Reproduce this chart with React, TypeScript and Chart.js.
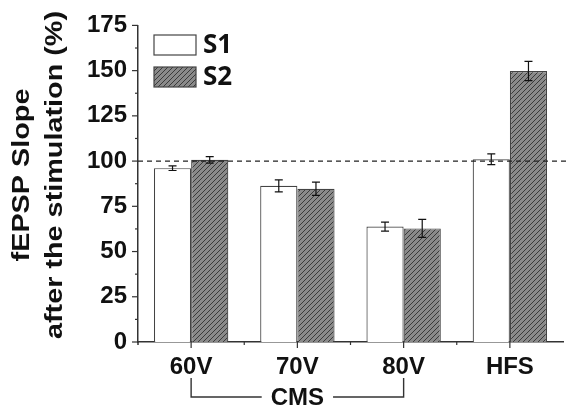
import React, { useEffect, useRef } from 'react';
import { Chart, registerables } from 'chart.js';

Chart.register(...registerables);

const categories = ['60V', '70V', '80V', 'HFS'];
const seriesNames = ['S1', 'S2'];
const s1Values = [96.1, 86.3, 63.8, 101.0];
const s1Errors = [1.3, 3.3, 2.5, 3.0];
const s2Values = [100.7, 84.7, 62.8, 149.8];
const s2Errors = [1.8, 3.7, 5.0, 5.3];
const yMin = 0;
const yMax = 175;
const yStep = 25;
const referenceLevel = 100;
const groupLabel = 'CMS';
const groupFirst = 0;
const groupLast = 2;
const yTitleLines = ['fEPSP Slope', 'after the stimulation (%)'];

const FONT = '"Liberation Sans", Arial, sans-serif';
const LEGEND_FONT = '"Open Sans", "Noto Sans", sans-serif';
const AXIS_COLOR = '#333';
const TEXT_COLOR = '#111';

function makeHatch(): CanvasPattern | string {
  const size = 5;
  const c = document.createElement('canvas');
  c.width = size;
  c.height = size;
  const g = c.getContext('2d');
  if (!g) return '#888';
  g.fillStyle = '#8a8a8a';
  g.fillRect(0, 0, size, size);
  g.strokeStyle = '#3a3a3a';
  g.lineWidth = 1;
  g.beginPath();
  g.moveTo(0, size);
  g.lineTo(size, 0);
  g.moveTo(-size, size);
  g.lineTo(size, -size);
  g.moveTo(0, 2 * size);
  g.lineTo(2 * size, 0);
  g.stroke();
  return g.createPattern(c, 'repeat') || '#888';
}

const errorsByDataset = [s1Errors, s2Errors];

const decorPlugin = {
  id: 'decor',
  afterDatasetsDraw(chart: any) {
    const ctx: CanvasRenderingContext2D = chart.ctx;
    const xs = chart.scales.x;
    const ys = chart.scales.y;
    const area = chart.chartArea;
    ctx.save();

    // error bars
    ctx.strokeStyle = '#111';
    ctx.lineWidth = 1.2;
    chart.data.datasets.forEach((ds: any, di: number) => {
      const meta = chart.getDatasetMeta(di);
      meta.data.forEach((bar: any, i: number) => {
        const v = ds.data[i];
        const e = errorsByDataset[di][i];
        const yt = ys.getPixelForValue(v + e);
        const yb = ys.getPixelForValue(v - e);
        const x = bar.x;
        ctx.beginPath();
        ctx.moveTo(x, yt);
        ctx.lineTo(x, yb);
        ctx.moveTo(x - 4, yt);
        ctx.lineTo(x + 4, yt);
        ctx.moveTo(x - 4, yb);
        ctx.lineTo(x + 4, yb);
        ctx.stroke();
      });
    });

    // reference dashed line
    const yRef = ys.getPixelForValue(referenceLevel);
    ctx.setLineDash([5, 4]);
    ctx.strokeStyle = '#222';
    ctx.lineWidth = 1.2;
    ctx.beginPath();
    ctx.moveTo(area.left, yRef);
    ctx.lineTo(chart.width, yRef);
    ctx.stroke();
    ctx.setLineDash([]);

    // y axis small extension below origin
    ctx.strokeStyle = AXIS_COLOR;
    ctx.lineWidth = 1.5;
    ctx.beginPath();
    ctx.moveTo(area.left, area.bottom);
    ctx.lineTo(area.left, area.bottom + 3);
    ctx.stroke();

    // y tick marks (major + minor)
    ctx.lineWidth = 1.2;
    for (let v = yMin; v <= yMax + 0.001; v += yStep / 2) {
      const y = ys.getPixelForValue(v);
      const len = Math.abs(v % yStep) < 0.001 ? 6 : 3;
      ctx.beginPath();
      ctx.moveTo(area.left, y);
      ctx.lineTo(area.left - len, y);
      ctx.stroke();
    }
    // x tick marks
    const n = categories.length;
    for (let i = 0; i < n; i++) {
      const x = xs.getPixelForValue(i);
      ctx.beginPath();
      ctx.moveTo(x, area.bottom);
      ctx.lineTo(x, area.bottom + 6);
      ctx.stroke();
      if (i < n - 1) {
        const xm = (x + xs.getPixelForValue(i + 1)) / 2;
        ctx.beginPath();
        ctx.moveTo(xm, area.bottom);
        ctx.lineTo(xm, area.bottom + 3);
        ctx.stroke();
      }
    }

    // legend
    const boxX = 154;
    const boxW = 42;
    const boxH = 20;
    const rows = [35, 67];
    chart.data.datasets.forEach((ds: any, di: number) => {
      const top = rows[di];
      ctx.fillStyle = ds.backgroundColor;
      ctx.fillRect(boxX, top, boxW, boxH);
      ctx.strokeStyle = '#444';
      ctx.lineWidth = 1.2;
      ctx.strokeRect(boxX, top, boxW, boxH);
      ctx.fillStyle = TEXT_COLOR;
      ctx.font = `bold 26px ${LEGEND_FONT}`;
      ctx.textAlign = 'left';
      ctx.textBaseline = 'middle';
      ctx.fillText(ds.label, boxX + boxW + 7, top + boxH / 2 + 1);
    });

    // CMS bracket
    const xl = xs.getPixelForValue(groupFirst);
    const xr = xs.getPixelForValue(groupLast);
    const yTop = 378;
    const yLine = 397;
    ctx.font = `bold 24px ${FONT}`;
    const tw = ctx.measureText(groupLabel).width;
    const xc = (xl + xr) / 2;
    const gap = 9;
    ctx.strokeStyle = '#333';
    ctx.lineWidth = 1.4;
    ctx.beginPath();
    ctx.moveTo(xl, yTop);
    ctx.lineTo(xl, yLine);
    ctx.lineTo(xc - tw / 2 - gap, yLine);
    ctx.moveTo(xc + tw / 2 + gap, yLine);
    ctx.lineTo(xr, yLine);
    ctx.lineTo(xr, yTop);
    ctx.stroke();
    ctx.fillStyle = TEXT_COLOR;
    ctx.textAlign = 'center';
    ctx.textBaseline = 'alphabetic';
    ctx.fillText(groupLabel, xc, yLine + 8);

    // y title (two lines, rotated)
    const baselines = [29, 62];
    const cy = 175;
    ctx.font = `bold 24px ${FONT}`;
    yTitleLines.forEach((line, li) => {
      ctx.save();
      ctx.translate(baselines[li], cy);
      ctx.rotate(-Math.PI / 2);
      ctx.scale(1.2, 1);
      ctx.textAlign = 'center';
      ctx.textBaseline = 'alphabetic';
      ctx.fillText(line, 0, 0);
      ctx.restore();
    });

    ctx.restore();
  },
};

export default function App() {
  const ref = useRef<HTMLCanvasElement | null>(null);
  useEffect(() => {
    if (!ref.current) return;
    const hatch = makeHatch();
    const tickFont = { family: FONT, size: 24, weight: 'bold' as const };
    const chart = new Chart(ref.current, {
      type: 'bar',
      data: {
        labels: categories,
        datasets: [
          {
            label: seriesNames[0],
            data: s1Values,
            backgroundColor: '#ffffff',
            borderColor: '#444',
            borderWidth: 1.2,
            categoryPercentage: 0.7,
            barPercentage: 1.0,
          },
          {
            label: seriesNames[1],
            data: s2Values,
            backgroundColor: hatch as any,
            borderColor: '#444',
            borderWidth: 1.2,
            categoryPercentage: 0.7,
            barPercentage: 1.0,
          },
        ],
      },
      options: {
        animation: false,
        responsive: false,
        layout: { padding: { left: 0, right: 3, top: 25, bottom: 0 } },
        plugins: {
          legend: { display: false },
          tooltip: { enabled: false },
        },
        scales: {
          x: {
            offset: true,
            grid: { display: false, drawTicks: false },
            border: { display: true, color: AXIS_COLOR, width: 1.5 },
            ticks: { font: tickFont, color: TEXT_COLOR, padding: 11, maxRotation: 0 },
            afterFit: (s: any) => {
              s.height = 67;
            },
          },
          y: {
            min: yMin,
            max: yMax,
            grid: { display: false, drawTicks: false },
            border: { display: true, color: AXIS_COLOR, width: 1.5 },
            ticks: { stepSize: yStep, font: tickFont, color: TEXT_COLOR, padding: 11 },
            afterFit: (s: any) => {
              s.width = 138;
            },
          },
        },
      },
      plugins: [decorPlugin],
    });
    return () => chart.destroy();
  }, []);
  return (
    <div style={{ position: 'absolute', left: 0, top: 0, width: 566, height: 409 }}>
      <canvas ref={ref} width={566} height={409} style={{ display: 'block' }} />
    </div>
  );
}
